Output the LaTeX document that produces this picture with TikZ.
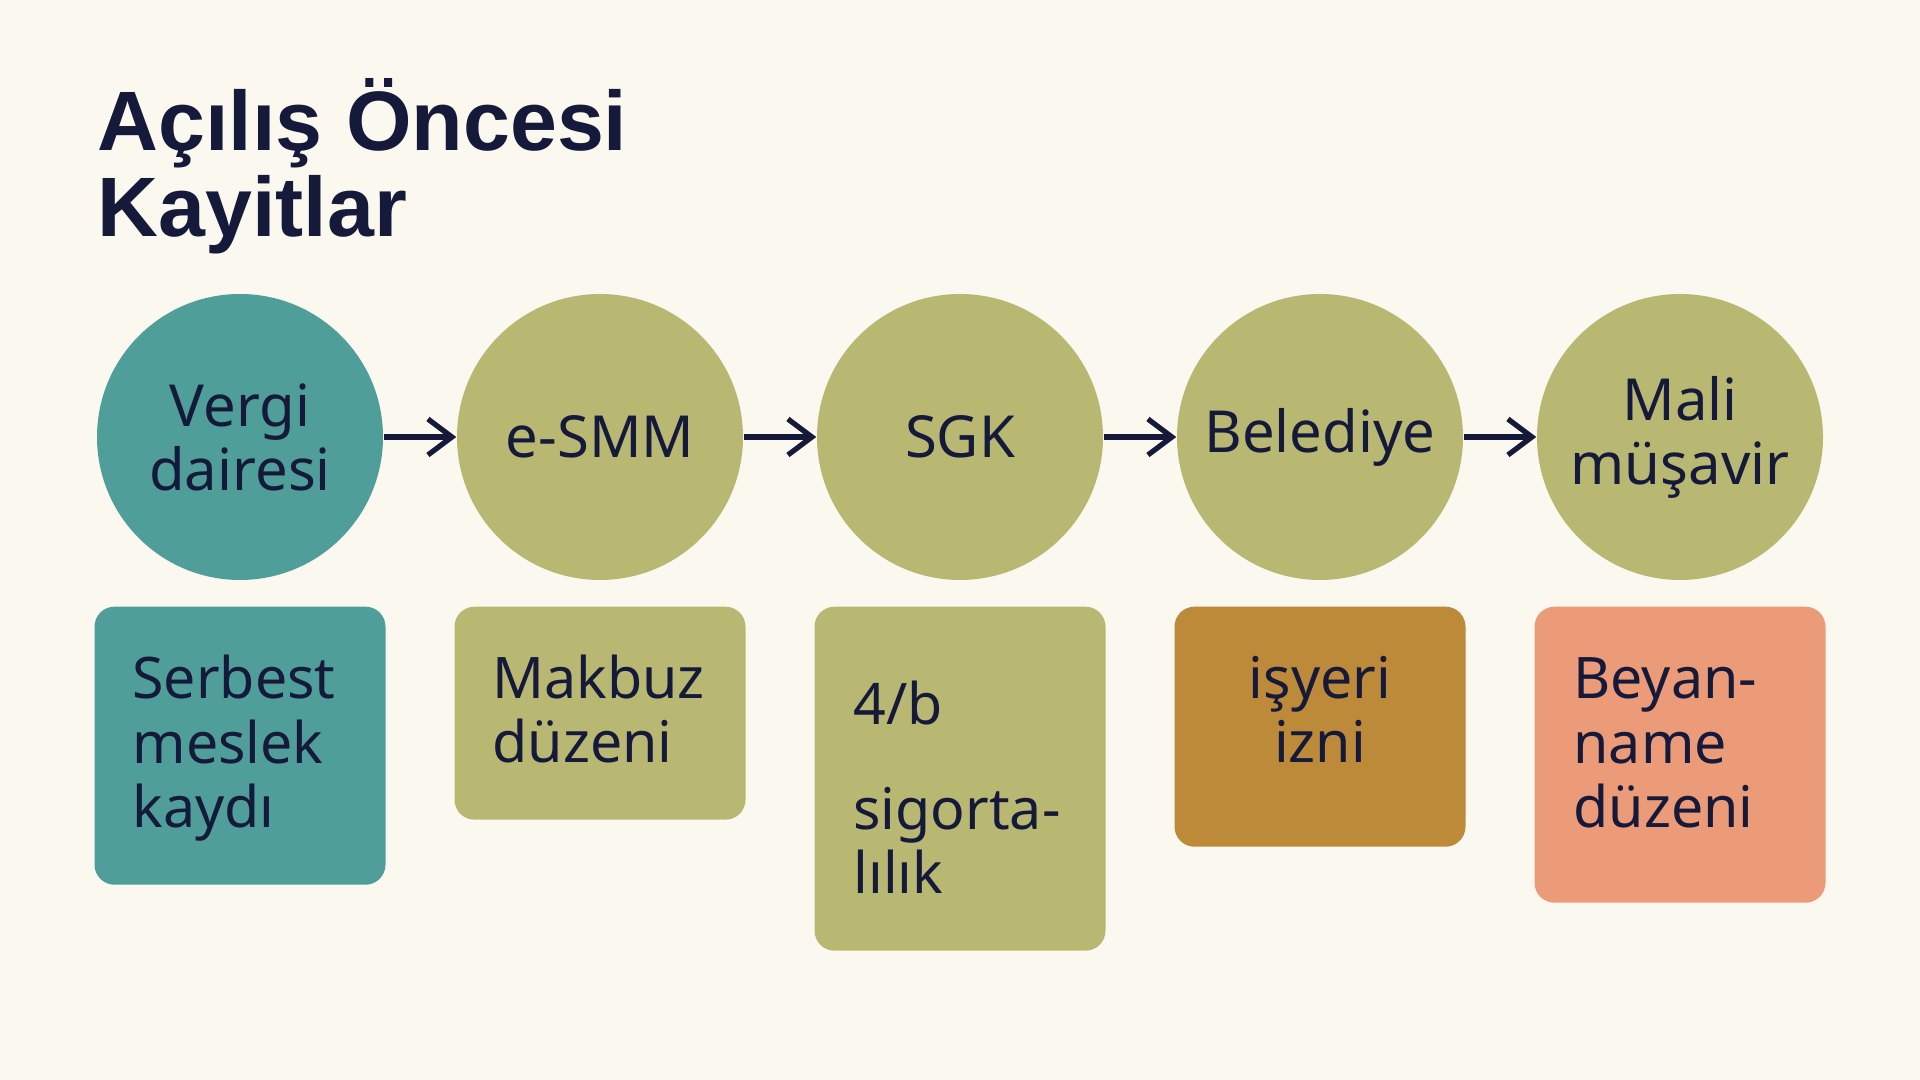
\documentclass[tikz,border=0pt]{standalone}
\usepackage{fontspec}
\setmainfont{Liberation Sans}
\newfontfamily\bodyfont{Noto Sans}
\usetikzlibrary{arrows.meta}
\definecolor{bgcream}{HTML}{FBF9EF}
\definecolor{ink}{HTML}{151A3B}
\definecolor{tealc}{HTML}{4F9E99}
\definecolor{olive}{HTML}{B8B872}
\definecolor{ochre}{HTML}{BD8A3A}
\definecolor{salmon}{HTML}{EC9B78}

\begin{document}
\begin{tikzpicture}[
		stage/.style={circle,minimum size=2.86cm,inner sep=0pt,align=center,text=ink,font=\bodyfont\fontsize{16.5}{18.2}\selectfont},
		card/.style={rounded corners=0.2cm,minimum width=2.91cm,anchor=north,inner sep=0pt},
		cardtext/.style={anchor=base west,align=left,text=ink,inner sep=0pt,font=\bodyfont\fontsize{16.3}{18.4}\selectfont},
		flow/.style={-{Straight Barb[length=2.4mm,width=3.6mm]},line width=1.5pt,draw=ink}]
		\useasboundingbox (0,0) rectangle (19.2,10.8);
		\fill[bgcream] (0,0) rectangle (19.2,10.8);
		\node[anchor=base west,align=left,text=ink,inner sep=0pt,font=\bfseries\fontsize{24}{24.7}\selectfont] (title) at (0.97,8.43) {Açılış Öncesi\\Kayitlar};
		% circles
		\node[stage,fill=tealc] (vergi) at (2.40,6.43) {Vergi\\dairesi};
		\node[stage,fill=olive] (esmm) at (6.00,6.43) {e-SMM};
		\node[stage,fill=olive] (sgk) at (9.60,6.43) {SGK};
		\node[stage,fill=olive] (beled) at (13.20,6.43) {Belediye};
		\node[stage,fill=olive] (mali) at (16.80,6.43) {Mali\\müşavir};
		\draw[flow] (vergi) -- (esmm);
		\draw[flow] (esmm) -- (sgk);
		\draw[flow] (sgk) -- (beled);
		\draw[flow] (beled) -- (mali);
		% cards
		\node[card,fill=tealc,minimum height=2.78cm] (kayit) at (2.40,4.74) {};
		\node[card,fill=olive,minimum height=2.13cm] (makbuz) at (6.00,4.74) {};
		\node[card,fill=olive,minimum height=3.44cm] (sigorta) at (9.60,4.74) {};
		\node[card,fill=ochre,minimum height=2.40cm] (izin) at (13.20,4.74) {};
		\node[card,fill=salmon,minimum height=2.96cm] (beyan) at (16.80,4.74) {};
		\node[cardtext] (kayittext) at ([shift={(0.38,-2.22)}]kayit.north west) {Serbest\\meslek\\kaydı};
		\node[cardtext] (makbuztext) at ([shift={(0.38,-1.57)}]makbuz.north west) {Makbuz\\düzeni};
		\node[cardtext] (sigortatext) at ([shift={(0.39,-2.88)}]sigorta.north west) {4/b\\[0.4cm]sigorta-\\lılık};
		\node[cardtext,anchor=base,align=center] (izintext) at ([yshift=-1.57cm]izin.north) {işyeri\\izni};
		\node[cardtext] (beyantext) at ([shift={(0.39,-2.22)}]beyan.north west) {Beyan-\\name\\düzeni};
\end{tikzpicture}
\end{document}
